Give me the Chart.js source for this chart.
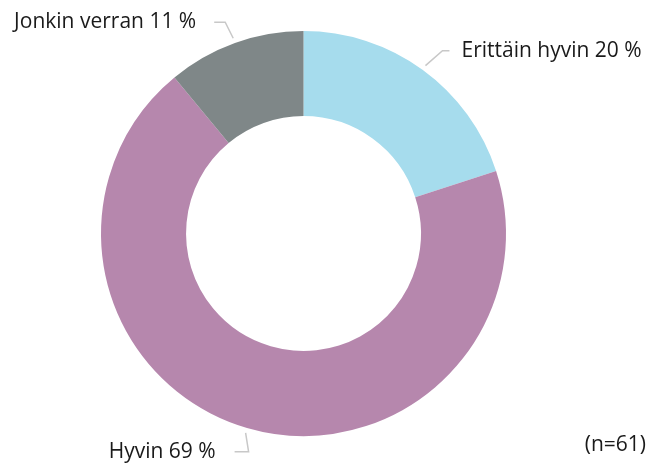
<!DOCTYPE html>
<html>
<head>
<meta charset="utf-8">
<script src="https://cdn.jsdelivr.net/npm/chart.js@4"></script>
<style>
  html, body { margin: 0; padding: 0; background: #fff; }
  #wrap { width: 651px; height: 463px; position: relative; }
</style>
</head>
<body>
<div id="wrap"><canvas id="donut" width="651" height="463"></canvas></div>
<script>
const categories = ['Erittäin hyvin', 'Hyvin', 'Jonkin verran'];
const shares = [20, 69, 11];
const colors = ['#a6dced', '#b687ad', '#7f8788'];
const note = '(n=61)';

// leader line shape per slice: elbow and end relative to start point on the ring
const leaders = [
  { elbow: [17, -15], end: [24, -15], align: 'left', gap: 12 },
  { elbow: [3, 19], end: [-11, 19], align: 'right', gap: 19 },
  { elbow: [-8, -16], end: [-19, -16], align: 'right', gap: 18 }
];

const FONT = '21px "Open Sans", "Noto Sans", sans-serif';

const labelPlugin = {
  id: 'leaderLabels',
  afterDatasetsDraw(chart) {
    const ctx = chart.ctx;
    const arcs = chart.getDatasetMeta(0).data;
    ctx.save();
    ctx.font = FONT;
    ctx.textBaseline = 'middle';
    arcs.forEach((arc, i) => {
      const mid = (arc.startAngle + arc.endAngle) / 2;
      const r = arc.outerRadius + 5;
      const sx = arc.x + Math.cos(mid) * r;
      const sy = arc.y + Math.sin(mid) * r;
      const L = leaders[i];
      const ex = sx + L.end[0], ey = sy + L.end[1];
      ctx.strokeStyle = '#c8c8c8';
      ctx.lineWidth = 1.5;
      ctx.beginPath();
      ctx.moveTo(sx, sy);
      ctx.lineTo(sx + L.elbow[0], sy + L.elbow[1]);
      ctx.lineTo(ex, ey);
      ctx.stroke();
      ctx.fillStyle = '#1a1a1a';
      ctx.textAlign = L.align;
      const tx = L.align === 'left' ? ex + L.gap : ex - L.gap;
      ctx.fillText(categories[i] + ' ' + shares[i] + ' %', tx, ey);
    });
    ctx.textAlign = 'right';
    ctx.fillText(note, 646, 445);
    ctx.restore();
  }
};

new Chart(document.getElementById('donut'), {
  type: 'doughnut',
  data: {
    labels: categories,
    datasets: [{
      data: shares,
      backgroundColor: colors,
      borderWidth: 0
    }]
  },
  options: {
    responsive: false,
    animation: false,
    cutout: '58%',
    layout: { padding: { left: 101, right: 145, top: 31, bottom: 27 } },
    plugins: {
      legend: { display: false },
      tooltip: { enabled: false }
    }
  },
  plugins: [labelPlugin]
});
</script>
</body>
</html>
